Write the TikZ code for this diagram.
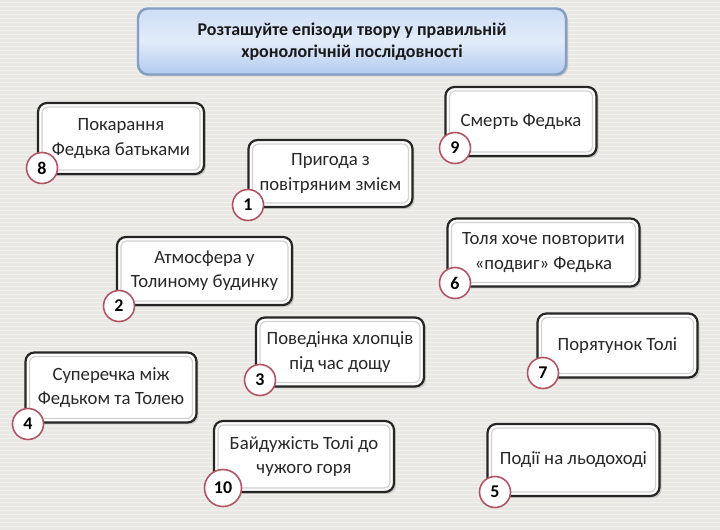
\documentclass[tikz,border=0pt]{standalone}
\usepackage{fontspec}
\setmainfont{Carlito}
\usetikzlibrary{shadows}
\definecolor{linen}{RGB}{233,232,228}
\definecolor{ringred}{RGB}{178,84,98}
\definecolor{titleedge}{RGB}{135,158,196}
\definecolor{titletop}{RGB}{206,222,246}
\definecolor{titlebot}{RGB}{178,202,238}
\definecolor{txt}{RGB}{40,40,40}

\begin{document}
\begin{tikzpicture}[
        x=1bp, y=-1bp,
        episode/.style={
            draw=black!85, line width=2.2pt, fill=white, text=txt,
            rounded corners=9pt, align=center,
            font=\fontsize{18.8}{24.5}\selectfont,
            drop shadow={shadow xshift=2pt, shadow yshift=-2pt, opacity=0.3},
            path picture={\draw[black!18, line width=1.2pt, rounded corners=6pt]
                ([shift={(4pt,4pt)}]path picture bounding box.south west) rectangle
                ([shift={(-4pt,-4pt)}]path picture bounding box.north east);}
        },
        num/.style={
            circle, draw=ringred, line width=1.6pt, fill=white,
            minimum size=31bp, inner sep=0pt, text=black,
            font=\fontsize{18}{18}\selectfont\bfseries
        }
    ]
        % background
        \fill[linen] (0,0) rectangle (720,530);
        \useasboundingbox (0,0) rectangle (720,530);
        \foreach \y in {2,6,...,530}
            \draw[white, opacity=0.35, line width=0.7bp] (0,\y) -- (720,\y);

        % Title
        \node[draw=titleedge, line width=2.5pt, rounded corners=10pt,
              top color=titletop, bottom color=titlebot, middle color=titletop!60!white,
              minimum width=428bp, minimum height=66bp, align=center,
              font=\fontsize{18}{22.5}\selectfont\bfseries, text=black!90,
              drop shadow={shadow xshift=2pt, shadow yshift=-2pt, opacity=0.3}]
              (title) at (352,41.5) {Розташуйте епізоди твору у правильній\\хронологічній послідовності};

        % Episodes - left part
        \node[episode, minimum width=166bp, minimum height=71bp] (b8) at (121,138.5) {Покарання\\Федька батьками};
        \node[episode, minimum width=164bp, minimum height=67bp] (b1) at (330.5,173.5) {Пригода з\\повітряним змієм};
        \node[episode, minimum width=175bp, minimum height=68bp] (b2) at (204.5,271) {Атмосфера у\\Толиному будинку};
        \node[episode, minimum width=168bp, minimum height=69bp] (b3) at (340,352) {Поведінка хлопців\\під час дощу};
        \node[episode, minimum width=171bp, minimum height=70bp] (b4) at (111,387.5) {Суперечка між\\Федьком та Толею};
        \node[episode, minimum width=180bp, minimum height=71bp] (b10) at (304,456.5) {Байдужість Толі до\\чужого горя};

        % Episodes - right part
        \node[episode, minimum width=151bp, minimum height=69bp] (b9) at (521,121.5) {Смерть Федька};
        \node[episode, minimum width=192bp, minimum height=68bp] (b6) at (543.5,252.5) {Толя хоче повторити\\«подвиг» Федька};
        \node[episode, minimum width=160bp, minimum height=64bp] (b7) at (617.5,345.5) {Порятунок Толі};
        \node[episode, minimum width=172bp, minimum height=72bp] (b5) at (573.5,460) {Події на льодоході};

        % Numbers
        \node[num] (n8) at (42,168) {8};
        \node[num] (n1) at (248,205) {1};
        \node[num] (n2) at (119,306) {2};
        \node[num] (n3) at (260,380) {3};
        \node[num] (n4) at (28,424) {4};
        \node[num, minimum size=37bp] (n10) at (223,488) {10};
        \node[num] (n9) at (455,148) {9};
        \node[num] (n6) at (455,283) {6};
        \node[num] (n7) at (543,373) {7};
        \node[num] (n5) at (495,492) {5};
    \end{tikzpicture}
\end{document}
